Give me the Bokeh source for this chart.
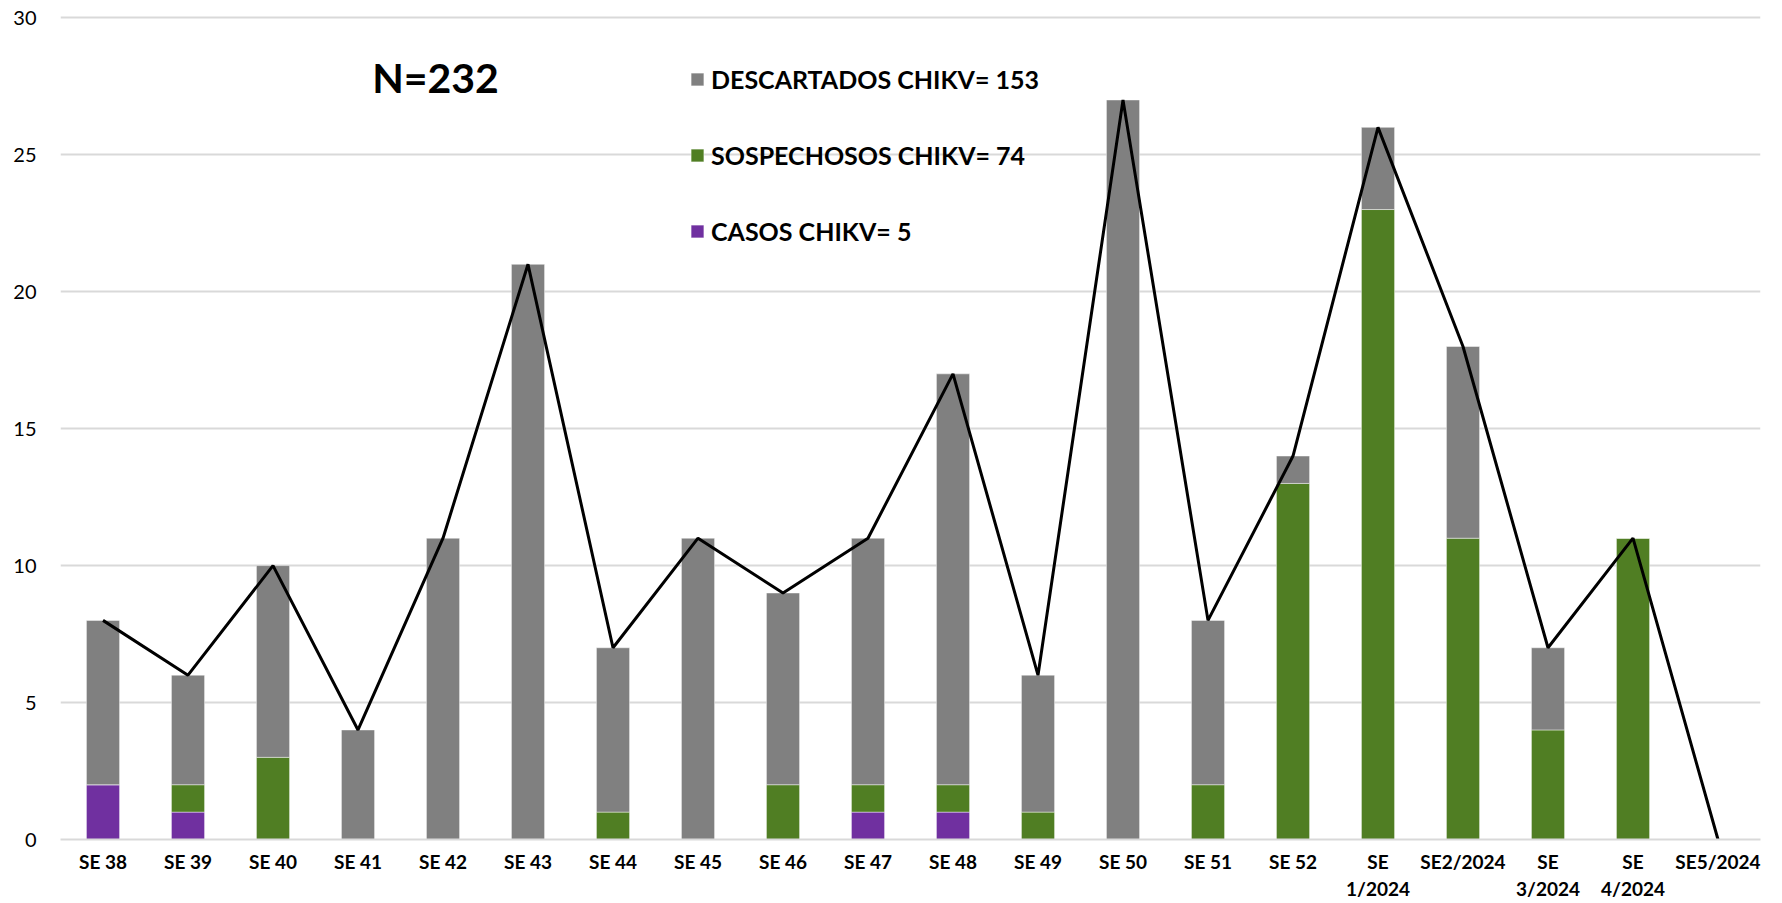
from bokeh.plotting import figure
from bokeh.models import (ColumnDataSource, Legend, LegendItem, Label, FixedTicker,
                          Range1d)
from bokeh.embed import file_html
from bokeh.resources import INLINE

# ---- data ----
weeks = ["SE 38", "SE 39", "SE 40", "SE 41", "SE 42", "SE 43", "SE 44", "SE 45",
         "SE 46", "SE 47", "SE 48", "SE 49", "SE 50", "SE 51", "SE 52",
         "SE\n1/2024", "SE2/2024", "SE\n3/2024", "SE\n4/2024", "SE5/2024"]
casos = [2, 1, 0, 0, 0, 0, 0, 0, 0, 1, 1, 0, 0, 0, 0, 0, 0, 0, 0, 0]
sospechosos = [0, 1, 3, 0, 0, 0, 1, 0, 2, 1, 1, 1, 0, 2, 13, 23, 11, 4, 11, 0]
descartados = [6, 4, 7, 4, 11, 21, 6, 11, 7, 9, 15, 5, 27, 6, 1, 3, 7, 3, 0, 0]
legend_labels = ["DESCARTADOS CHIKV= 153", "SOSPECHOSOS CHIKV= 74", "CASOS CHIKV= 5"]
n_label = "N=232"
y_ticks = [0, 5, 10, 15, 20, 25, 30]

x = list(range(len(weeks)))
total = [a + b + c for a, b, c in zip(casos, sospechosos, descartados)]

src = ColumnDataSource(dict(x=x, casos=casos, sosp=sospechosos, desc=descartados,
                            total=total))

GRAY = "#808080"
GREEN = "#507E23"
PURPLE = "#7030A0"
FONT = "Lato"

p = figure(width=1782, height=903, output_backend="svg", toolbar_location=None,
           x_range=Range1d(-0.5, len(weeks) - 0.5), y_range=Range1d(0, 30.12),
           min_border_left=60, min_border_right=22, min_border_top=14,
           min_border_bottom=63)
p.outline_line_color = None

r = p.vbar_stack(["casos", "sosp", "desc"], x="x", width=0.39, source=src,
                 color=[PURPLE, GREEN, GRAY], line_color="white", line_alpha=0.45,
                 line_width=1)
p.line("x", "total", source=src, line_color="black", line_width=3)

# axes
p.xaxis.ticker = FixedTicker(ticks=x)
p.xaxis.major_label_overrides = {i: w for i, w in enumerate(weeks)}
p.xaxis.major_label_text_font = FONT
p.xaxis.major_label_text_font_style = "bold"
p.xaxis.major_label_text_font_size = "19px"
p.xaxis.major_label_text_color = "black"
p.xaxis.major_label_standoff = 4
p.xaxis.major_tick_line_color = None
p.xaxis.minor_tick_line_color = None
p.xaxis.axis_line_color = "#D9D9D9"
p.xaxis.axis_line_width = 2

p.yaxis.ticker = FixedTicker(ticks=y_ticks)
p.yaxis.major_label_text_font = FONT
p.yaxis.major_label_text_font_size = "20px"
p.yaxis.major_label_text_color = "black"
p.yaxis.major_label_standoff = 18
p.yaxis.major_tick_line_color = None
p.yaxis.minor_tick_line_color = None
p.yaxis.axis_line_color = None

p.xgrid.grid_line_color = None
p.ygrid.grid_line_color = "#D9D9D9"
p.ygrid.grid_line_width = 2

# legend
items = [LegendItem(label=legend_labels[0], renderers=[r[2]]),
         LegendItem(label=legend_labels[1], renderers=[r[1]]),
         LegendItem(label=legend_labels[2], renderers=[r[0]])]
legend = Legend(items=items, location=(619, 583), orientation="vertical",
                glyph_width=16, glyph_height=16, label_standoff=6,
                spacing=46, padding=10, margin=0,
                label_text_font=FONT, label_text_font_style="bold",
                label_text_font_size="25px", label_text_color="black",
                border_line_alpha=0, background_fill_alpha=0)
p.add_layout(legend, "center")

p.add_layout(Label(x=375, y=762, x_units="screen", y_units="screen", text=n_label,
                   text_font=FONT, text_font_style="bold", text_font_size="41px",
                   text_align="center", text_baseline="middle", text_color="black"))

open("out.html", "w").write(file_html(p, INLINE))
